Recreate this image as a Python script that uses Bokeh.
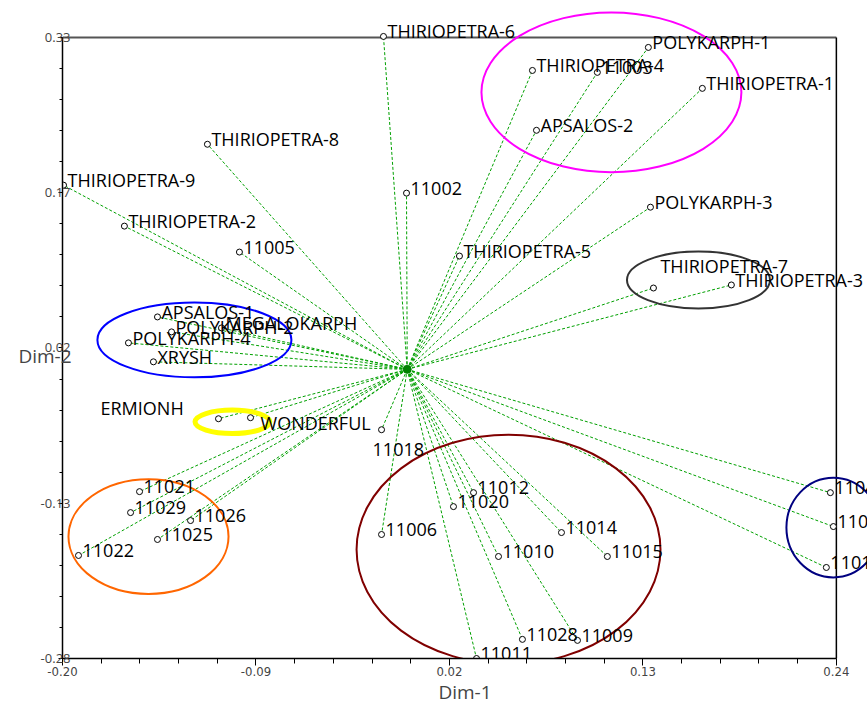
import numpy as np
from bokeh.plotting import figure
from bokeh.models import Range1d, FixedTicker, ColumnDataSource
from bokeh.core.properties import value
from bokeh.embed import file_html
from bokeh.resources import INLINE

# ---- data ----
names = ["THIRIOPETRA-6", "THIRIOPETRA-4", "11003", "POLYKARPH-1", "THIRIOPETRA-1",
         "APSALOS-2", "THIRIOPETRA-8", "THIRIOPETRA-9", "11002", "POLYKARPH-3",
         "THIRIOPETRA-2", "11005", "THIRIOPETRA-5", "THIRIOPETRA-7", "THIRIOPETRA-3",
         "APSALOS-1", "POLYKARPH-2", "MEGALOKARPH", "POLYKARPH-4", "XRYSH",
         "ERMIONH", "WONDERFUL", "11018", "11021", "11029", "11026", "11025", "11022",
         "11006", "11012", "11020", "11014", "11015", "11010", "11028", "11009", "11011",
         "11040", "11030", "11017"]
dim1 = [-0.0175, 0.0672, 0.1041, 0.1331, 0.1638,
        0.0695, -0.1176, -0.1994, -0.0044, 0.1343,
        -0.1648, -0.0994, 0.0257, 0.1360, 0.1803,
        -0.1460, -0.1380, -0.1096, -0.1625, -0.1483,
        -0.1113, -0.0931, -0.0186, -0.1562, -0.1613, -0.1272, -0.1460, -0.1909,
        -0.0186, 0.0337, 0.0223, 0.0837, 0.1098, 0.0479, 0.0615, 0.0928, 0.0354,
        0.2366, 0.2383, 0.2343]
dim2 = [0.3310, 0.2976, 0.2957, 0.3202, 0.2800,
        0.2388, 0.2251, 0.1849, 0.1771, 0.1633,
        0.1447, 0.1192, 0.1153, 0.0839, 0.0869,
        0.0555, 0.0408, 0.0447, 0.0300, 0.0114,
        -0.0445, -0.0435, -0.0553, -0.1161, -0.1367, -0.1445, -0.1631, -0.1788,
        -0.1582, -0.1171, -0.1308, -0.1563, -0.1798, -0.1798, -0.2612, -0.2622, -0.2800,
        -0.1171, -0.1504, -0.1906]
origin = (-0.004, 0.004)

# group ellipses: centre x, centre y, width, height (data units)
ell_x = [0.1121, -0.1250, -0.1034, 0.1616, -0.1511, 0.0536, 0.2383]
ell_y = [0.2761, 0.0329, -0.0475, 0.0918, -0.1602, -0.1729, -0.1514]
ell_w = [0.1478, 0.1103, 0.0425, 0.0813, 0.0910, 0.1728, 0.0534]
ell_h = [0.1569, 0.0735, 0.0230, 0.0559, 0.1127, 0.2255, 0.0980]
ell_color = ["#ff00ff", "#0000ff", "#ffff00", "#333333", "#ff6600", "#800000", "#000080"]
ell_lw = [2, 2, 5, 2, 2, 2, 2]

x_ticks = [-0.20, -0.09, 0.02, 0.13, 0.24]
y_tick_labels = ["-0.28", "-0.13", "0.02", "0.17", "0.33"]

# ---- label placement (style) ----
special = {"THIRIOPETRA-7": (7, -22), "ERMIONH": (-118, -11), "WONDERFUL": (10, 5),
           "11018": (-9, 20)}
xo = [special.get(n, (4, -5))[0] for n in names]
yo = [special.get(n, (4, -5))[1] for n in names]

src = ColumnDataSource(dict(x=dim1, y=dim2, name=names, xo=xo, yo=yo,
                            x0=[origin[0]] * len(names), y0=[origin[1]] * len(names)))

p = figure(width=867, height=707,
           x_range=Range1d(-0.2, 0.2577), y_range=Range1d(-0.28, 0.3663),
           output_backend="svg", toolbar_location=None,
           min_border_left=62, min_border_right=0, min_border_top=0, min_border_bottom=48)
p.outline_line_color = None
p.grid.visible = False
p.background_fill_color = "white"

# frame lines (top / right)
p.segment(x0=[-0.2], y0=[0.33], x1=[0.24], y1=[0.33], line_color="#555555", line_width=2)
p.segment(x0=[0.24], y0=[-0.28], x1=[0.24], y1=[0.33], line_color="black", line_width=1.5)

# rays
p.segment(x0="x0", y0="y0", x1="x", y1="y", source=src,
          line_color="#00a000", line_dash="3 2", line_width=1)
p.scatter(x=[origin[0]], y=[origin[1]], size=8, color="#008000")

# ellipses
p.ellipse(x=ell_x, y=ell_y, width=ell_w, height=ell_h, fill_color=None,
          line_color=ell_color, line_width=ell_lw)

# markers and labels
p.scatter(x="x", y="y", source=src, size=6, marker="circle",
          fill_color="white", line_color="black", line_width=1)
p.text(x="x", y="y", text="name", source=src, x_offset="xo", y_offset="yo",
       text_font_size="18px", text_font=value("Open Sans"),
       text_baseline="middle", text_align="left", text_color="black")

# axes
xa = p.xaxis[0]
xa.bounds = (-0.2, 0.24)
xa.ticker = FixedTicker(ticks=x_ticks,
                        minor_ticks=list(np.round(np.arange(-0.20, 0.2401, 0.022), 4)))
xa.major_label_overrides = {t: f"{t:.2f}" for t in x_ticks}
xa.axis_line_color = "black"
xa.axis_line_width = 1.5
xa.major_tick_out = 7
xa.major_tick_in = 0
xa.minor_tick_out = 5
xa.minor_tick_in = 0
xa.major_label_standoff = 1
xa.major_label_text_font = "'Liberation Sans Narrow', 'DejaVu Sans Condensed', sans-serif"
xa.major_label_text_font_size = "13px"
xa.axis_label = "Dim-1"
xa.axis_label_text_font = "Open Sans"
xa.axis_label_text_font_size = "19px"
xa.axis_label_text_font_style = "normal"
xa.axis_label_standoff = 0

ya = p.yaxis[0]
ya.bounds = (-0.28, 0.33)
yt = list(np.linspace(-0.28, 0.33, 5))
ystep = (0.33 + 0.28) / 20
ya.ticker = FixedTicker(ticks=yt, minor_ticks=[-0.28 + i * ystep for i in range(21)])
ya.major_label_overrides = {t: l for t, l in zip(yt, y_tick_labels)}
ya.axis_line_color = "black"
ya.axis_line_width = 1.5
ya.major_tick_out = 4
ya.major_tick_in = 0
ya.minor_tick_out = 3
ya.minor_tick_in = 0
ya.major_label_standoff = -12
ya.major_label_text_font = "Open Sans"
ya.major_label_text_font_size = "13px"
ya.axis_label = "\nDim-2"
ya.axis_label_orientation = "horizontal"
ya.axis_label_text_font = "Open Sans"
ya.axis_label_text_font_size = "19px"
ya.axis_label_text_line_height = 2.0
ya.axis_label_text_font_style = "normal"
ya.axis_label_standoff = -34

open("out.html", "w").write(file_html(p, INLINE))
